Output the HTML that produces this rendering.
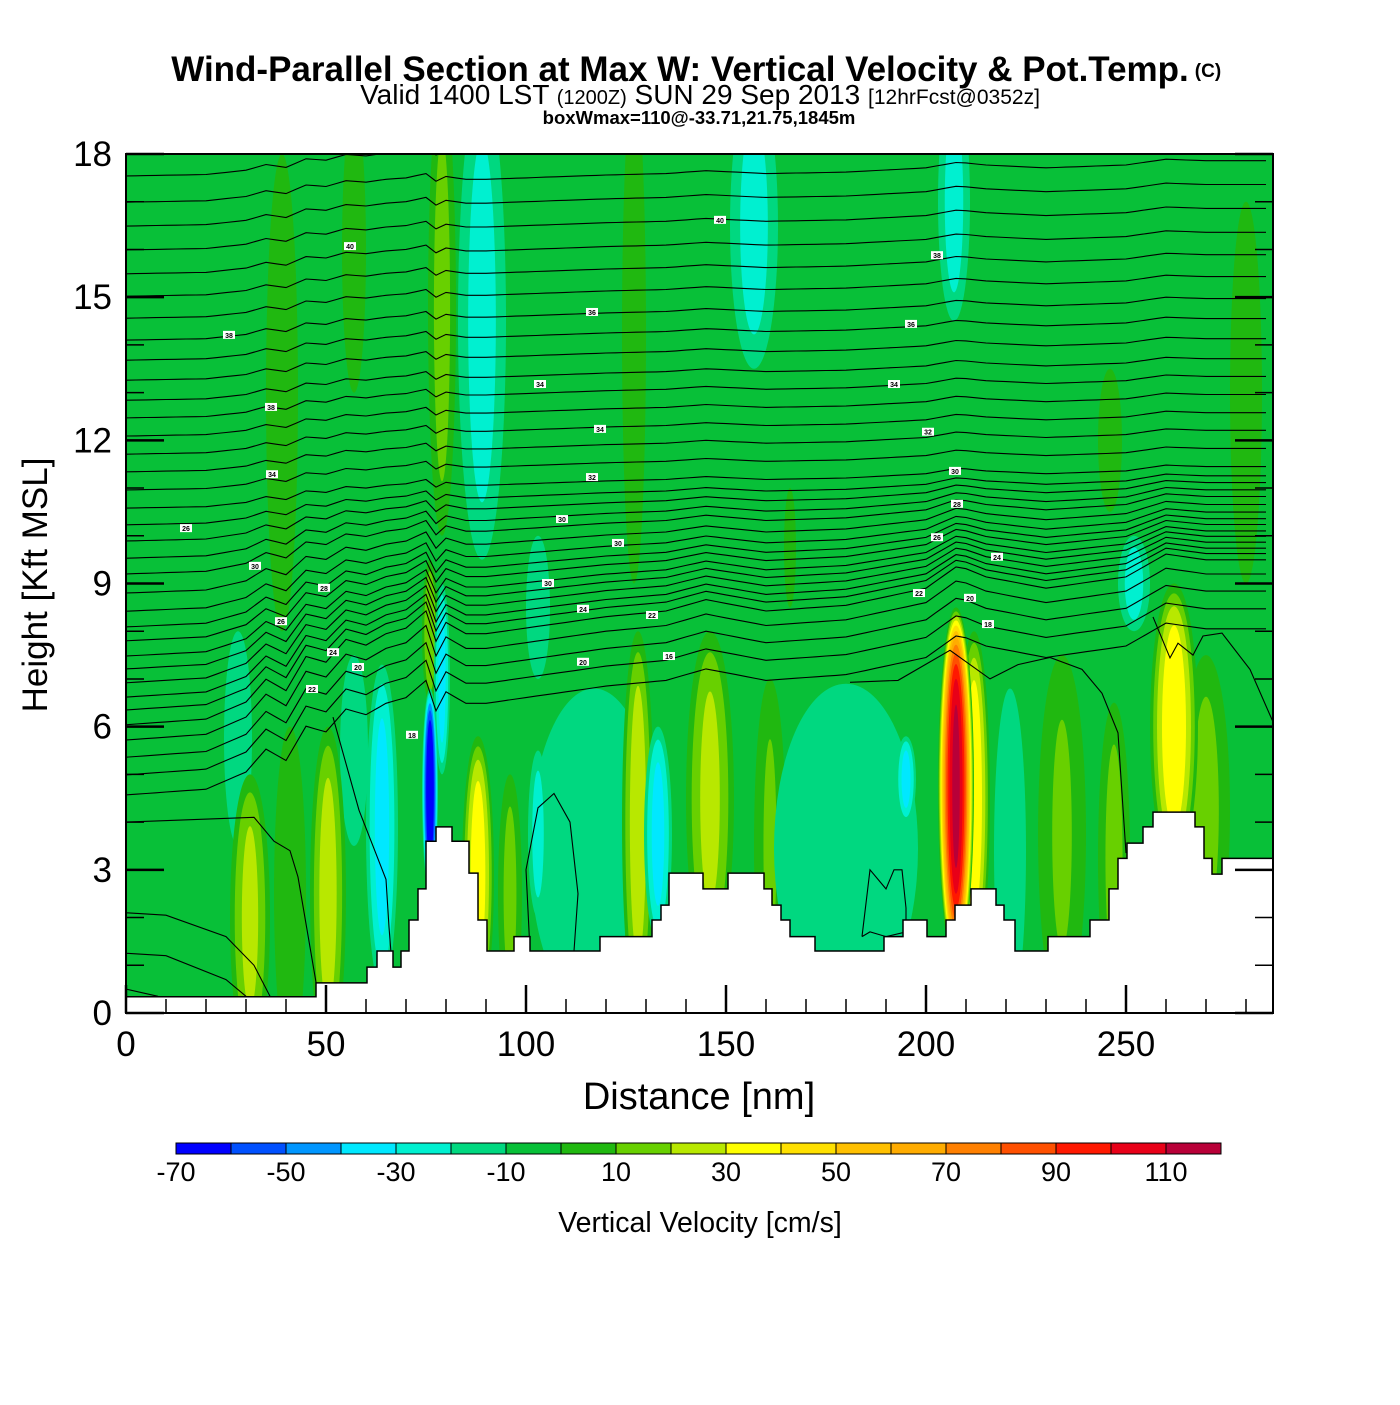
<!DOCTYPE html>
<html><head><meta charset="utf-8"><style>
html,body{margin:0;padding:0;background:#fff;}
svg text{font-family:"Liberation Sans",sans-serif;}
</style></head><body>
<svg id="chart" width="1400" height="1400" viewBox="0 0 1400 1400" xmlns="http://www.w3.org/2000/svg">
<text x="680" y="81" text-anchor="middle" font-size="35" font-weight="bold">Wind-Parallel Section at Max W: Vertical Velocity &amp; Pot.Temp.</text>
<text x="1208" y="77" text-anchor="middle" font-size="19" font-weight="bold">(C)</text>
<text x="700" y="104" text-anchor="middle" font-size="28"><tspan>Valid 1400 LST </tspan><tspan font-size="20">(1200Z)</tspan><tspan> SUN 29 Sep 2013 </tspan><tspan font-size="21">[12hrFcst@0352z]</tspan></text>
<text x="699" y="124" text-anchor="middle" font-size="18.5" font-weight="bold">boxWmax=110@-33.71,21.75,1845m</text>
<defs><clipPath id="plotclip"><rect x="126" y="154" width="1147" height="859"/></clipPath></defs>
<g id="plot" clip-path="url(#plotclip)"></g>
<g id="axes"></g>
<text x="699" y="1109" text-anchor="middle" font-size="38">Distance [nm]</text>
<text transform="translate(47,585) rotate(-90)" text-anchor="middle" font-size="35">Height [Kft MSL]</text>
<g id="cbar"></g>
<text x="700" y="1232" text-anchor="middle" font-size="28.5">Vertical Velocity [cm/s]</text>
</svg>
<script>
// ---- data ----
const bandColors=["#0000ff","#0050ff","#0096ff","#00e8ff","#00f0d0","#00d880","#08c038","#20b810","#68d000","#b8e800","#ffff00","#ffe000","#ffc000","#ffac00","#ff8000","#ff5000","#ff1800","#e80018","#b80038"];
const cbarLabels=[-70,-50,-30,-10,10,30,50,70,90,110];
const xTicks=[0,50,100,150,200,250];
const yTicks=[0,3,6,9,12,15,18];
// terrain steps: start nm, height kft
const terrainNm=[0,47.5,60.25,62.75,66.75,68.75,70.75,73,75,77.5,81.5,85.75,88,90.25,97,101,118.5,131.5,133.75,135.75,144.25,150.5,159.5,161.5,163.75,166,172.25,189.5,194.25,200.25,205,207.25,211.25,217.5,219.5,222.25,230.5,241,245.75,248,250.25,254.25,256.75,267.25,269.5,271.5,274];
const terrainKft=[0.34,0.63,0.96,1.3,0.96,1.3,1.95,2.6,3.6,3.9,3.6,2.93,1.95,1.3,1.6,1.3,1.6,1.95,2.26,2.93,2.6,2.93,2.6,2.26,1.95,1.6,1.3,1.6,1.95,1.6,1.95,2.26,2.6,2.26,1.95,1.3,1.6,1.95,2.6,3.24,3.56,3.9,4.21,3.9,3.24,2.91,3.24];
// vertical velocity plumes: center nm, half-width nm, bottom kft, top kft, peak cm/s
const plumeX=[117,180,221,103,28,57,252,89,157,207,64,133,195,79,76,31,50.5,88,96,128,146,161,179,234,247,262,270,212,207.5,39,57,79,127,280,246,166,76,41,103];
const plumeW=[16,18,4,2.5,3.5,3.5,4,6,6,4,4,3.5,2.5,2,2,5,4.5,4,3,4,6,4,3,6,4,6,6,4,4.5,4,3,3.5,3,4,3,1.5,2,4,3];
const plumeBot=[0,0,0,2,3.5,3.5,8,9.5,13.5,14.5,0.5,1.5,4,5,2.5,-1,-1,0,0,0,1,0,0,0,0,3,1,1,1,8,13,10,9,9,10.5,8.5,6.5,-1,7];
const plumeTop=[6.8,6.9,6.8,5.5,8,7.5,10,19.5,19.5,19.5,7.3,6,5.8,9,6.8,5,6,5.8,5,8,8,7,5.5,7.5,6.5,9,7.5,8,8.5,18,19,19.5,19.5,17,13.5,11,9.5,6,10];
const plumePeak=[-18,-18,-20,-25,-20,-20,-25,-25,-25,-25,-35,-35,-35,-35,-75,24,26,38,14,27,24,12,12,12,14,40,14,40,115,8,5,15,5,5,5,5,20,10,-15];
// isentropes: left-edge heights (kft) and shared displacement profile
const thetaLeft=[17.54,16.99,16.49,15.99,15.49,15.02,14.56,14.10,13.68,13.26,12.84,12.47,12.09,11.71,11.34,10.96,10.58,10.23,9.89,9.53,9.20,8.80,8.42,8.09,7.80,7.48,7.21,6.92,6.62,6.35,6.04,5.72,5.36,4.99,4.57];
const profNm=[0,20,30,35,40,45,50,55,60,65,70,75,77,80,85,90,100,120,135,145,160,180,200,208,215,230,250,260,270,287];
const profKft=[0,0.1,0.4,0.8,0.6,1.2,1.1,1.5,1.4,1.6,1.7,2.0,1.4,1.8,1.6,1.6,1.7,1.9,2.0,2.2,2.0,2.1,2.4,2.8,2.6,2.4,2.6,3.0,2.9,2.9];
// extra contour segments (nm, kft)
const lineA_nm=[0,32,37,41,43,48], lineA_k=[4.0,4.1,3.6,3.4,2.85,0.4];
const lineB_nm=[0,10,25,32,36], lineB_k=[2.1,2.05,1.6,1.0,0.35];
const lineC_nm=[0,10,25,30], lineC_k=[1.25,1.2,0.7,0.35];
const lineD_nm=[0,8], lineD_k=[0.5,0.35];
const lineE_nm=[51.75,58.25,65,65.75,66.5], lineE_k=[6.2,4.25,2.8,1.8,1.0];
const lineF_nm=[101,100,103,107,111,113,112], lineF_k=[1.3,3,4.3,4.6,4,2.5,1.3];
const lineG_nm=[181,193,206,216,223,231,239,244,248,249,250], lineG_k=[6.93,6.97,7.6,7.0,7.3,7.45,7.2,6.7,5.87,4.6,3.35];
const lineH_nm=[256.75,261,263,266.75,269.25,274,281,286.75], lineH_k=[8.3,7.44,7.75,7.5,7.9,7.96,7.2,6.1];
const lineI_nm=[184,186,190,192,194,195,195,190,186,184], lineI_k=[1.6,3.0,2.6,3.0,3.0,2.2,1.7,1.6,1.7,1.6];
const labelNm=[25.75,56,36.25,36.5,15,32.25,49.5,38.75,51.75,58,46.5,71.5,103.5,116.5,148.5,118.5,116.5,109,123,105.5,114.25,131.5,114.25,135.75,202.75,196.25,192,200.5,207.25,207.75,202.75,217.75,198.25,211,215.5];
const labelKft=[14.21,16.07,12.70,11.29,10.16,9.37,8.91,8.21,7.56,7.25,6.79,5.83,13.18,14.69,16.62,12.24,11.23,10.35,9.85,9.01,8.47,8.34,7.36,7.48,15.88,14.44,13.18,12.18,11.36,10.67,9.97,9.56,8.80,8.70,8.15];
const labelText=["38","40","38","34","26","30","28","26","24","20","22","18","34","36","40","34","32","30","30","30","24","22","20","16","38","36","34","32","30","28","26","24","22","20","18"];

// ---- scales ----
const NS="http://www.w3.org/2000/svg";
const X=nm=>126+nm*(1147/286.75);
const Y=k=>1013-k*(859/18);
function mk(tag,attrs,parent){const e=document.createElementNS(NS,tag);for(const a in attrs)e.setAttribute(a,attrs[a]);parent.appendChild(e);return e;}
const plot=document.getElementById('plot');
const axes=document.getElementById('axes');
const cbar=document.getElementById('cbar');
function colorFor(v){let k=Math.floor((v+70)/10);return bandColors[Math.max(0,Math.min(18,k))];}

let bg=mk('rect',{x:126,y:154,width:1147,height:859,fill:colorFor(-5)},plot);



const order=plumePeak.map((p,i)=>i).sort((a,b)=>Math.abs(plumePeak[a])-Math.abs(plumePeak[b]));
order.forEach(i=>{
  const p=plumePeak[i],cx=X(plumeX[i]),cy=(Y(plumeBot[i])+Y(plumeTop[i]))/2;
  const rx=X(plumeW[i])-X(0),ry=(Y(plumeBot[i])-Y(plumeTop[i]))/2;
  const g=mk('g',{},plot);
  
  
  if(p>0){
    for(let l=0;l<p;l+=10){const s=Math.sqrt((p-l)/p);
      const e=mk('ellipse',{cx:cx,cy:cy,rx:rx*s,ry:ry*Math.sqrt(s),fill:colorFor(l+5)},g);
      
      }
  } else {
    for(let u=-10;u>p;u-=10){const s=Math.sqrt((u-p)/(-10-p));
      const e=mk('ellipse',{cx:cx,cy:cy,rx:rx*s,ry:ry*Math.sqrt(s),fill:colorFor(u-5)},g);
      
      }
  }
});

function prof(nm){for(let j=0;j<profNm.length-1;j++){if(nm<=profNm[j+1]){const t=(nm-profNm[j])/(profNm[j+1]-profNm[j]);return profKft[j]+t*(profKft[j+1]-profKft[j]);}}return profKft[profKft.length-1];}
function amp(h){return h<6?1.2:(h<10.5?1.2-(h-6)*0.2:0.3);}
thetaLeft.forEach(h=>{
  const a=amp(h);
  let d='';
  for(let nm=0;nm<=287;nm+=2.5){d+=(nm?'L':'M')+X(nm).toFixed(1)+','+Y(h+a*prof(nm)).toFixed(1);}
  const pth=mk('path',{d:d,fill:'none',stroke:'#000','stroke-width':1.1},plot);
  
  
});
[[lineA_nm,lineA_k],[lineB_nm,lineB_k],[lineC_nm,lineC_k],[lineD_nm,lineD_k],[lineE_nm,lineE_k],[lineF_nm,lineF_k],[lineG_nm,lineG_k],[lineH_nm,lineH_k],[lineI_nm,lineI_k]].forEach(([n,k])=>{
  const d=n.map((v,j)=>(j?'L':'M')+X(v).toFixed(1)+','+Y(k[j]).toFixed(1)).join('');
  const pth=mk('path',{d:d,fill:'none',stroke:'#000','stroke-width':1.1},plot);
  
  
});

let td='M'+X(0)+','+Y(0);
terrainNm.forEach((n,j)=>{const end=j<terrainNm.length-1?terrainNm[j+1]:286.75;td+='L'+X(n)+','+Y(terrainKft[j])+'L'+X(end)+','+Y(terrainKft[j]);});
td+='L'+X(286.75)+','+Y(0)+'Z';
const terr=mk('path',{d:td,fill:'#fff',stroke:'#000','stroke-width':1.5},plot);



labelNm.forEach((n,j)=>{
  const g=mk('g',{},plot);
  
  
  mk('rect',{x:X(n)-6,y:Y(labelKft[j])-4,width:12,height:8,fill:'#fff'},g);
  const t=mk('text',{x:X(n),y:Y(labelKft[j])+3,'text-anchor':'middle','font-size':7,'font-weight':'bold'},g);
  t.textContent=labelText[j];
});

const fr=mk('rect',{x:126,y:154,width:1147,height:859,fill:'none',stroke:'#000','stroke-width':2},axes);


for(let k=0;k<=18;k++){
  const len=k%3===0?38:18;
  mk('line',{x1:126,x2:126+len,y1:Y(k),y2:Y(k),stroke:'#000','stroke-width':k%3===0?2.5:1.5},axes);
  mk('line',{x1:1273-len,x2:1273,y1:Y(k),y2:Y(k),stroke:'#000','stroke-width':k%3===0?2.5:1.5},axes);
}
for(let n=0;n<=280;n+=10){
  const len=n%50===0?28:14;
  mk('line',{x1:X(n),x2:X(n),y1:1013,y2:1013-len,stroke:'#000','stroke-width':n%50===0?2.5:1.5},axes);
}
yTicks.forEach(v=>{const t=mk('text',{x:112,y:Y(v)+12,'text-anchor':'end','font-size':35},axes);
  
  
  t.textContent=v;});
xTicks.forEach(v=>{const t=mk('text',{x:X(v),y:1056,'text-anchor':'middle','font-size':35},axes);
  
  
  t.textContent=v;});

const cw=1045/19;
bandColors.forEach((c,j)=>{const r=mk('rect',{x:176+j*cw,y:1143,width:cw,height:11,fill:c,stroke:'#000','stroke-width':1},cbar);
  
  });
cbarLabels.forEach(v=>{const t=mk('text',{x:176+(v+70)/10*cw,y:1181,'text-anchor':'middle','font-size':27},cbar);
  
  
  t.textContent=v;});
</script>
</body></html>
